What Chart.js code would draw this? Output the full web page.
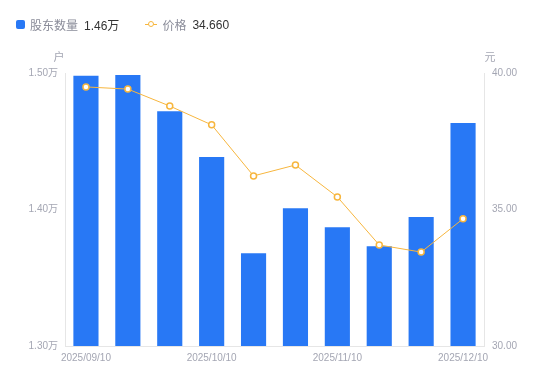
<!DOCTYPE html>
<html>
<head>
<meta charset="utf-8">
<script src="https://cdn.jsdelivr.net/npm/chart.js@4"></script>
<style>
  html, body { margin: 0; padding: 0; background: #fff; }
  #wrap { position: relative; width: 550px; height: 381px; }
  #legend { position: absolute; left: 16px; top: 16px; font: 12px "Liberation Sans", "Noto Sans CJK SC", sans-serif; display: flex; align-items: center; }
  .item { display: flex; align-items: center; margin-right: 26px; }
  .name { color: #8a8c99; margin-right: 6px; }
  .val { color: #333; }
  .box { width: 9px; height: 9px; border-radius: 2px; background: #2878f5; margin-right: 5px; }
  .lineIcon { position: relative; width: 12px; height: 9px; margin-right: 5px; }
  .lineIcon:before { content: ''; position: absolute; left: 0; right: 0; top: 4px; height: 1px; background: #f7b63e; }
  .lineIcon:after { content: ''; position: absolute; left: 3px; top: 1px; width: 4px; height: 4px; border: 1.5px solid #f7b63e; border-radius: 50%; background: #fff; }
</style>
</head>
<body>
<div id="wrap">
  <canvas id="chart" width="550" height="381"></canvas>
  <div id="legend">
    <div class="item"><span class="box"></span><span class="name">股东数量</span><span class="val">1.46万</span></div>
    <div class="item"><span class="lineIcon"></span><span class="name">价格</span><span class="val">34.660</span></div>
  </div>
</div>
<script>
const dates = ['2025/09/10', '2025/09/19', '2025/09/30', '2025/10/10', '2025/10/20', '2025/10/31', '2025/11/10', '2025/11/20', '2025/11/28', '2025/12/10'];
const holders = [1.498, 1.4985, 1.472, 1.4385, 1.368, 1.401, 1.387, 1.373, 1.3945, 1.4634];
const prices = [39.49, 39.41, 38.79, 38.10, 36.23, 36.63, 35.46, 33.70, 33.44, 34.66];
const shownDates = ['2025/09/10', '2025/10/10', '2025/11/10', '2025/12/10'];

const tickColor = '#a4a6b3';
const axisColor = '#e6e6e6';
const font = { family: '"Liberation Sans", "Noto Sans CJK SC", sans-serif', size: 10 };

const axisTitles = {
  id: 'axisTitles',
  afterDraw(chart) {
    const ctx = chart.ctx;
    const area = chart.chartArea;
    ctx.save();
    ctx.font = '11px "Noto Sans CJK SC", sans-serif';
    ctx.fillStyle = tickColor;
    ctx.textBaseline = 'middle';
    ctx.textAlign = 'center';
    ctx.fillText('户', area.left - 6, area.top - 16);
    ctx.fillText('元', area.right + 6, area.top - 16);
    ctx.restore();
  }
};

new Chart(document.getElementById('chart'), {
  data: {
    labels: dates,
    datasets: [
      {
        type: 'line',
        label: '价格',
        data: prices,
        yAxisID: 'y1',
        borderColor: '#f7b63e',
        borderWidth: 1,
        pointRadius: 3,
        pointBorderWidth: 1.5,
        pointBackgroundColor: '#fff',
        pointBorderColor: '#f7b63e',
        tension: 0,
        order: 0
      },
      {
        type: 'bar',
        label: '股东数量',
        data: holders,
        yAxisID: 'y',
        backgroundColor: '#2878f5',
        categoryPercentage: 1,
        barPercentage: 0.6,
        order: 1
      }
    ]
  },
  options: {
    responsive: false,
    animation: false,
    layout: { padding: { top: 73, left: 0, right: 0, bottom: 0 } },
    plugins: { legend: { display: false }, tooltip: { enabled: false } },
    scales: {
      x: {
        grid: { display: false, drawTicks: false },
        border: { color: axisColor },
        ticks: {
          color: tickColor, font, padding: 6, maxRotation: 0, autoSkip: false,
          callback(v) { const d = dates[v]; return shownDates.includes(d) ? d : ''; }
        },
        afterFit(scale) { scale.height = 35; }
      },
      y: {
        position: 'left',
        min: 1.30, max: 1.50,
        grid: { display: false, drawOnChartArea: false, drawTicks: true, tickLength: 4, color: axisColor },
        border: { color: axisColor },
        ticks: { stepSize: 0.1, color: tickColor, font, padding: 3, callback: v => v.toFixed(2) + '万' },
        afterFit(scale) { scale.width = 65; }
      },
      y1: {
        position: 'right',
        min: 30, max: 40,
        grid: { display: false, drawOnChartArea: false, drawTicks: true, tickLength: 4, color: axisColor },
        border: { color: axisColor },
        ticks: { stepSize: 5, color: tickColor, font, padding: 4, callback: v => v.toFixed(2) },
        afterFit(scale) { scale.width = 66; }
      }
    }
  },
  plugins: [axisTitles]
});
</script>
</body>
</html>
